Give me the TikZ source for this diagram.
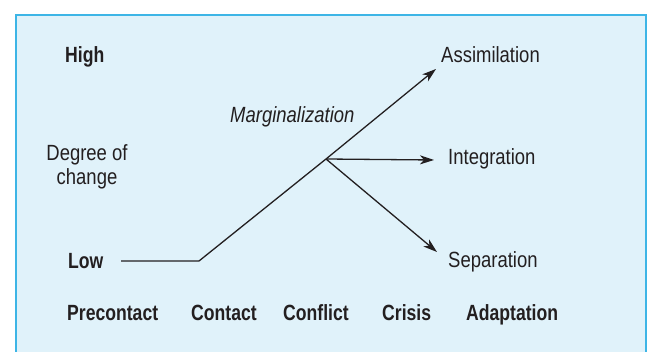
\documentclass[tikz,border=0pt]{standalone}
\usepackage{fontspec}
\setmainfont{Liberation Sans}[FakeStretch=0.84]
\newfontfamily\boldcond{Liberation Sans}[FakeStretch=0.80]
\usetikzlibrary{arrows.meta}
\definecolor{bgblue}{HTML}{E0F2FA}
\definecolor{bordblue}{HTML}{3DB5E6}
\definecolor{ink}{HTML}{231F20}
\begin{document}
\begin{tikzpicture}[x=1pt,y=-1pt,
  lab/.style={inner sep=0pt, anchor=base west, text=ink, font=\fontsize{22}{26}\selectfont},
  ilab/.style={lab, font=\fontsize{22}{26}\selectfont\itshape},
  blab/.style={lab, font=\boldcond\bfseries\fontsize{22}{26}\selectfont},
  conn/.style={line width=1.3pt, draw=ink},
  arr/.style={conn, -{Stealth[length=14pt,width=9pt,inset=4pt]}}]
\useasboundingbox (0,0) rectangle (648,352);
\begin{scope}
  \clip (0,0) rectangle (648,352);
  \draw[bordblue, fill=bgblue, line width=2pt] (16,15) rectangle (646,372);
\end{scope}
% axis labels
\node[blab] (high) at (65,63) {High};
\node[blab] (low) at (68,269) {Low};
\node[lab, anchor=base] (deg) at (87,161) {Degree of};
\node[lab, anchor=base] (chg) at (87,185) {change};
% outcomes
\node[ilab] (marg) at (230,123) {Marginalization};
\node[lab] (assim) at (441,63) {Assimilation};
\node[lab] (integ) at (448,165) {Integration};
\node[lab] (sep) at (448,268) {Separation};
% stages
\node[blab] (pre) at (67,321) {Precontact};
\node[blab] (con) at (191,321) {Contact};
\node[blab] (conf) at (283,321) {Conflict};
\node[blab] (cris) at (382,321) {Crisis};
\node[blab] (adapt) at (466,321) {Adaptation};
% connectors
\coordinate (start) at (121,261);
\coordinate (bend) at (199,261);
\coordinate (junc) at (326,159);
\coordinate (assimtip) at (436,69);
\coordinate (integtip) at (434,160);
\coordinate (septip) at (437,252);
\draw[conn] (start) -- (bend) -- (junc);
\draw[arr] (junc) -- (assimtip);
\draw[arr] (junc) -- (integtip);
\draw[arr] (junc) -- (septip);
\end{tikzpicture}
\end{document}
